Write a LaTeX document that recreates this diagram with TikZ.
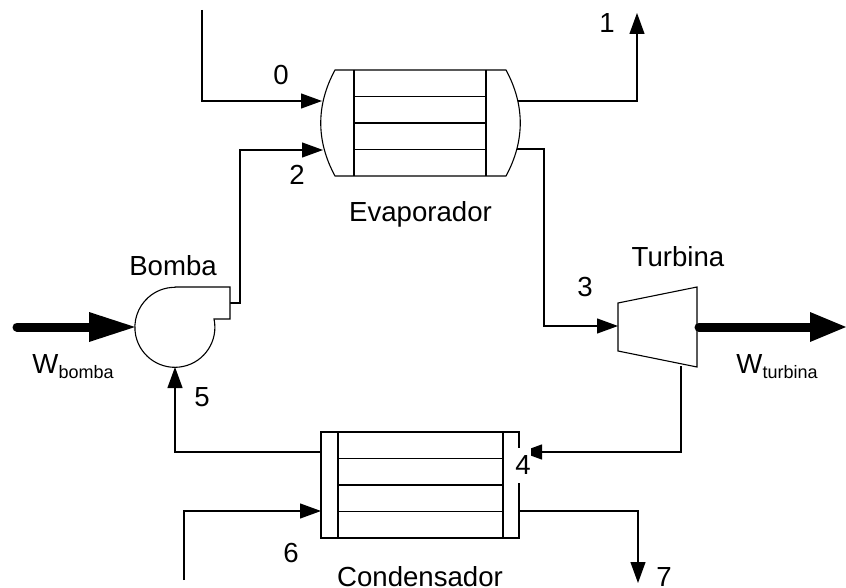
\documentclass[tikz,border=0pt]{standalone}
\usepackage{fontspec}
\setmainfont{Liberation Sans}
\usetikzlibrary{arrows.meta}
\tikzset{
  equip/.style={draw=black,line width=1.1pt,line join=miter,fill=white},
  inner/.style={draw=black,line width=1.1pt},
  flow/.style={draw=black,line width=1.1pt,-{Triangle[length=21pt,width=15pt]}},
  work/.style={draw=black,line width=9pt,line cap=round},
  workhead/.style={fill=black},
  lab/.style={font=\fontsize{27.6}{32}\selectfont,inner sep=0pt,anchor=base}
}
\newcommand{\subt}[1]{\raisebox{-5pt}{\fontsize{18}{20}\selectfont #1}}
\begin{document}
\begin{tikzpicture}[x=1pt,y=-1pt]
\useasboundingbox (0,0) rectangle (846,588);
% anchor points
\coordinate (in0) at (202,10);
\coordinate (b0) at (202,101);
\coordinate (e0) at (322,101);
\coordinate (e1) at (518,101);
\coordinate (b1) at (637,101);
\coordinate (out1) at (637,13);
\coordinate (e2) at (323,150);
\coordinate (b2) at (240,150);
\coordinate (p2) at (240,303);
\coordinate (po) at (230,303);
\coordinate (e3) at (517,149);
\coordinate (b3) at (544,149);
\coordinate (b3b) at (544,326);
\coordinate (t3) at (618,326);
\coordinate (t4) at (681,366);
\coordinate (b4) at (681,452);
\coordinate (c4) at (521,452);
\coordinate (c5) at (321,452);
\coordinate (b5) at (175,452);
\coordinate (p5) at (175,367);
\coordinate (in6) at (184,580);
\coordinate (b6) at (184,511);
\coordinate (c6) at (321,511);
\coordinate (c7) at (519,511);
\coordinate (b7) at (638,511);
\coordinate (out7) at (638,583);
\coordinate (wbs) at (17,327);
\coordinate (wbe) at (90,327);
\coordinate (wts) at (699,327);
\coordinate (wte) at (812,327);
% connectors
\draw[flow] (in0) -- (b0) -- (e0);
\draw[flow] (e1) -- (b1) -- (out1);
\draw[flow] (po) -- (p2) -- (b2) -- (e2);
\draw[flow] (e3) -- (b3) -- (b3b) -- (t3);
\draw[flow] (c5) -- (b5) -- (p5);
\draw[flow] (in6) -- (b6) -- (c6);
\draw[flow] (c7) -- (b7) -- (out7);
% evaporator
\draw[equip] (335,70) -- (506,70) .. controls (525,105) and (525,141) .. (506,176) -- (335,176) .. controls (316,141) and (316,105) .. (335,70) -- cycle;
\draw[inner] (354,70) -- (354,176) (486,70) -- (486,176)
  (354,96.5) -- (486,96.5) (354,123) -- (486,123) (354,149.5) -- (486,149.5);
% condenser
\draw[equip] (321,432) rectangle (519,538);
\draw[inner] (338,432) -- (338,538) (503,432) -- (503,538)
  (338,458.5) -- (503,458.5) (338,485) -- (503,485) (338,511.5) -- (503,511.5);
\draw[flow] (t4) -- (b4) -- (c4);
% pump
\draw[equip] (175,287) -- (230,287) -- (230,319) -- (214,319)
  arc[start angle=-12,end angle=270,radius=40] -- cycle;
% turbine
\draw[equip] (618,303) -- (697,287) -- (697,367) -- (618,351) -- cycle;
% work arrows
\draw[work] (wbs) -- (wbe);
\fill[workhead] (89,312) -- (135,327) -- (89,342) -- cycle;
\draw[work] (wts) -- (wte);
\fill[workhead] (810,312) -- (846,327) -- (810,342) -- cycle;
% labels
\node[lab] (l0) at (281,85) {0};
\node[lab] (l1) at (607,33) {1};
\node[lab] (l2) at (297,185) {2};
\node[lab] (l3) at (585,296) {3};
\node[lab,fill=white,text height=26pt,text depth=9pt] (l4) at (523,474) {4};
\node[lab] (l5) at (202,406) {5};
\node[lab] (l6) at (291,562) {6};
\node[lab] (l7) at (664,586) {7};
\node[lab] (evap) at (420.5,222) {Evaporador};
\node[lab] (cond) at (420,586) {Condensador};
\node[lab] (bomba) at (173,276) {Bomba};
\node[lab] (turb) at (678,266) {Turbina};
\node[lab] (wb) at (73,373) {W\subt{bomba}};
\node[lab] (wt) at (777,373) {W\subt{turbina}};
\end{tikzpicture}
\end{document}
